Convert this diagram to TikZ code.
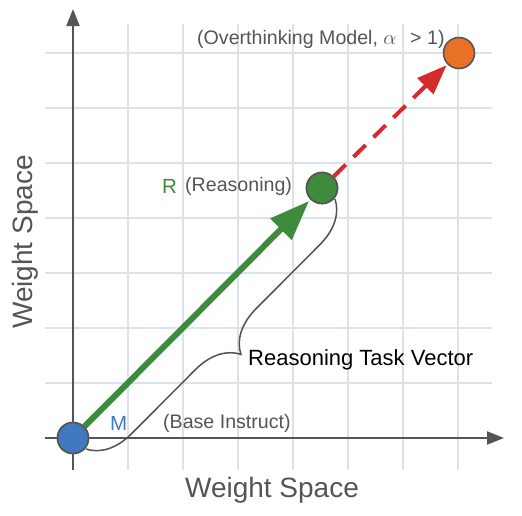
\documentclass[tikz,border=0pt]{standalone}
\usepackage{fontspec}
\setmainfont{Liberation Sans}
\usetikzlibrary{arrows.meta,decorations.pathreplacing}
\definecolor{gridc}{HTML}{DCE3E8}
\definecolor{axisc}{HTML}{555555}
\definecolor{txtc}{HTML}{555555}
\definecolor{mblue}{HTML}{4178BE}
\definecolor{rgreen}{HTML}{3E8B3E}
\definecolor{oorange}{HTML}{E87125}
\definecolor{ored}{HTML}{D42B2B}
\tikzset{
  gridline/.style={draw=gridc, line width=2.2pt},
  axisline/.style={draw=axisc, line width=2.2pt, -{Triangle[length=17pt,width=13pt]}},
  pointnode/.style={circle, draw=axisc, line width=1.6pt, minimum size=31pt, inner sep=0pt},
  anno/.style={text=txtc, font=\fontsize{19.6}{22}\selectfont, inner sep=0pt},
  axlabel/.style={text=txtc, font=\fontsize{28}{32}\selectfont, inner sep=0pt},
  bracec/.style={draw=axisc!95!black, line width=1.5pt, decorate, decoration={brace, amplitude=43pt}},
}
\begin{document}
\begin{tikzpicture}[x=1pt,y=-1pt]
\useasboundingbox (0,0) rectangle (522,515);
% grid
\foreach \i in {0,...,7} {
  \draw[gridline] (73+55*\i,24) -- (73+55*\i,470);
  \draw[gridline] (45,438-55*\i) -- (492,438-55*\i);
}
% axes
\coordinate (xs) at (45,438);
\coordinate (xe) at (504,438);
\coordinate (ys) at (73,470);
\coordinate (ye) at (73,9);
\draw[axisline] (xs) -- (xe);
\draw[axisline] (ys) -- (ye);
% axis labels
\node[axlabel] (xl) at (272,490) {Weight Space};
\node[axlabel, rotate=90] (yl) at (25,242) {Weight Space};
% points
\node[pointnode, fill=mblue] (M) at (73,438) {};
\node[pointnode, fill=rgreen] (R) at (322,188) {};
\node[pointnode, fill=oorange] (O) at (459,53) {};
% arrows
\draw[draw=rgreen, line width=6pt, -{Triangle[length=40pt,width=29pt]}, shorten >=2pt] (M) -- (R);
\draw[draw=ored, line width=4pt, dash pattern=on 17pt off 11pt, -{Triangle[length=30pt,width=22pt]}, shorten >=1pt] (R) -- (O);
\node[pointnode, fill=mblue] at (M) {};
\node[pointnode, fill=rgreen] at (R) {};
% brace
\coordinate (bA) at (86,449);
\coordinate (bB) at (335,199);
\draw[bracec, decoration={mirror}] (bA) -- (bB);
% labels
\node[anno, text=mblue, font=\fontsize{20.5}{22}\selectfont, anchor=west] (Ml) at (110,423) {M};
\node[anno, anchor=west] (Mt) at (163,423) {(Base Instruct)};
\node[anno, text=rgreen, font=\fontsize{20.5}{22}\selectfont, anchor=west] (Rl) at (162,186) {R};
\node[anno, anchor=west] (Rt) at (185,186) {(Reasoning)};
\node[anno, anchor=west] (Ot) at (197,39) {(Overthinking Model, $\alpha$\hspace{0.7em}> 1)};
\node[inner sep=0pt, font=\fontsize{22}{24}\selectfont, anchor=west] (tv) at (248,360) {Reasoning Task Vector};
\end{tikzpicture}
\end{document}
